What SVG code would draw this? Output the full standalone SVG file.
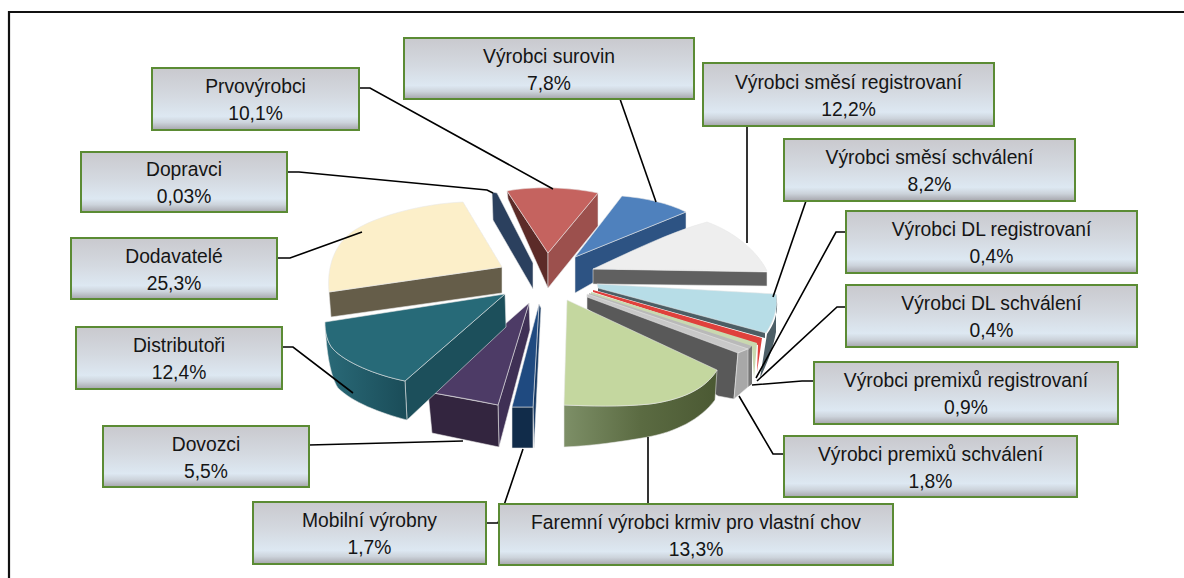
<svg xmlns="http://www.w3.org/2000/svg" width="1184" height="578" viewBox="0 0 1184 578">
<defs>
<linearGradient id="boxg" x1="0" y1="0" x2="0" y2="1">
<stop offset="0" stop-color="#c9c9ce"/>
<stop offset="0.45" stop-color="#d4d9e0"/>
<stop offset="0.78" stop-color="#dde8f2"/>
<stop offset="0.88" stop-color="#ccd3db"/>
<stop offset="1" stop-color="#a5a5ab"/>
</linearGradient>
<linearGradient id="greenSide" x1="0" y1="0" x2="1" y2="0">
<stop offset="0" stop-color="#7d8f67"/>
<stop offset="0.5" stop-color="#5b6b42"/>
<stop offset="1" stop-color="#4b5933"/>
</linearGradient>
<linearGradient id="tealSide" x1="0" y1="0" x2="1" y2="0">
<stop offset="0" stop-color="#2a6a78"/>
<stop offset="1" stop-color="#1a4c58"/>
</linearGradient>
<style>
.box{fill:url(#boxg);stroke:#5b8b34;stroke-width:2}
.t{font-family:"Liberation Sans",Arial,sans-serif;font-size:19.3px;fill:#151515;text-anchor:middle}
.c{fill:none;stroke:#000;stroke-width:1.6}
.e{stroke:#e8e8e8;stroke-width:0.8;stroke-opacity:0.7}
</style>
</defs>
<rect width="1184" height="578" fill="#fff"/>
<path d="M9,578 V12 H1184" fill="none" stroke="#111" stroke-width="2.2"/>

<g id="pie">
<g id="slice-dopravci">
<path class="e" d="M492,192 L497,193 L533,263 L533,289 L493,220 Z" fill="#2b405e"/>
</g>
<g id="slice-dodavatele">
<path class="e" d="M329,292 L502,267 L502,293 L331,317 Z" fill="#655d49"/>
<path class="e" d="M329,292 C326,262 338,238 360,227 C380,216 420,204 463,202 L502,267 Z" fill="#fcefc9"/>
</g>
<g id="slice-prvovyrobci">
<path class="e" d="M507,191 L548,253 L548,288 L508,199 Z" fill="#5c2b28"/>
<path class="e" d="M598,193 L548,253 L548,288 L598,226 Z" fill="#9c504d"/>
<path class="e" d="M507,191 C530,186 570,187 598,193 L548,253 Z" fill="#c5635f"/>
</g>
<g id="slice-surovin">
<path class="e" d="M575,257 L686,212 L686,230 L575,293 Z" fill="#2d5383"/>
<path class="e" d="M575,257 L622,196 C645,198 668,203 686,212 Z" fill="#4f81bd"/>
</g>
<g id="slice-smesi-reg">
<path class="e" d="M593,269 L767,272 L767,286 L593,284 Z" fill="#606060"/>
<path class="e" d="M593,269 C630,252 670,232 707,222 C735,232 758,252 767,271 Z" fill="#eeeeee"/>
</g>
<g id="slice-smesi-schv">
<path d="M598,287 L765,331 L765,338 L598,291 Z" fill="#4c5d64"/>
<path d="M776,294 C779,308 776,322 767,334 L760,378 C768,362 773,348 776,332 Z" fill="#4d5f67"/>
<path class="e" d="M597,284 L776,294 C778,304 776,318 766,333 L598,288 Z" fill="#b7dde7"/>
</g>
<g id="slice-dl-reg">
<path d="M593,290 L762,338 L757,372 L758,345 L593,292 Z" fill="#e0403c"/>
</g>
<g id="slice-dl-schv">
<path d="M591,292 L757,343 L754,378 L752,348 L591,294 Z" fill="#c9d8b0"/>
</g>
<g id="slice-premix-reg">
<path d="M589,293 L752,346 L750,382 L748,350 L589,296 Z" fill="#b9b9b9"/>
<path d="M748,350 L752,346 L752,384 L748,387 Z" fill="#777"/>
</g>
<g id="slice-premix-schv">
<path class="e" d="M587,295 L738,352 L734,399 L718,396 L587,309 Z" fill="#595959"/>
<path class="e" d="M587,294 L748,349 L738,353 L587,297 Z" fill="#c8c8c8"/>
<path class="e" d="M738,353 L748,349 L748,387 L734,399 Z" fill="#a8a8a8"/>
</g>
<g id="slice-faremni">
<path class="e" d="M564,405 C590,406 620,407 650,404 C680,400 705,390 717,370 L715,400 C700,420 675,432 648,437 C620,442 590,446 564,447 Z" fill="url(#greenSide)"/>
<path class="e" d="M567,300 L717,370 C705,390 680,400 650,404 C620,407 590,406 564,405 Z" fill="#c4d79f"/>
</g>
<g id="slice-mobilni">
<path class="e" d="M533,407 L539,304 L541,308 L534,448 Z" fill="#173a64"/>
<path class="e" d="M512,407 L533,407 L533,448 L512,448 Z" fill="#112c4a"/>
<path class="e" d="M512,407 L539,304 L533,407 Z" fill="#1f4a80"/>
</g>
<g id="slice-dovozci">
<path class="e" d="M498,405 L529,303 L530,330 L499,447 Z" fill="#3f3055"/>
<path class="e" d="M428,392 L498,405 L499,447 L432,433 Z" fill="#33253f"/>
<path class="e" d="M428,392 L529,303 L498,405 C475,400 450,396 428,392 Z" fill="#4d3b66"/>
</g>
<g id="slice-distributori">
<path class="e" d="M405,381 L505,294 L506,327 L407,420 Z" fill="#1c4f5b"/>
<path class="e" d="M325,322 C325,332 327,342 333,349 C345,362 375,375 405,381 L407,420 C380,413 352,402 338,388 C329,374 326,345 325,322 Z" fill="url(#tealSide)"/>
<path class="e" d="M325,322 L505,294 L405,381 C375,375 345,362 333,349 C327,342 325,332 325,322 Z" fill="#276a78"/>
</g>
</g>

<g id="connectors">
<path class="c" d="M359,88 H370 L553,189"/>
<path class="c" d="M287,172 H299 L487,190 L493,193"/>
<path class="c" d="M277,258 H290 L362,232"/>
<path class="c" d="M282,347 H293 L353,393"/>
<path class="c" d="M309,445 L463,441"/>
<path class="c" d="M486,523 H498 L523,449"/>
<path class="c" d="M648,504 V437"/>
<path class="c" d="M620,99 L656,202"/>
<path class="c" d="M747,126 V243"/>
<path class="c" d="M806,201 L773,297"/>
<path class="c" d="M846,232 H836 L756,378"/>
<path class="c" d="M846,307 H837 L757,381"/>
<path class="c" d="M814,381 H802 L752,385"/>
<path class="c" d="M784,454 H773 L739,396"/>
</g>

<g id="box-prvovyrobci">
<rect class="box" x="152" y="68" width="207" height="62"/>
<text class="t" x="255.5" y="93">Prvovýrobci</text>
<text class="t" x="255.5" y="120">10,1%</text>
</g>
<g id="box-dopravci">
<rect class="box" x="81" y="152" width="206" height="60"/>
<text class="t" x="184" y="176">Dopravci</text>
<text class="t" x="184" y="203">0,03%</text>
</g>
<g id="box-dodavatele">
<rect class="box" x="71" y="238" width="206" height="61"/>
<text class="t" x="174" y="263">Dodavatelé</text>
<text class="t" x="174" y="290">25,3%</text>
</g>
<g id="box-distributori">
<rect class="box" x="76" y="327" width="206" height="62"/>
<text class="t" x="179" y="352">Distributoři</text>
<text class="t" x="179" y="379">12,4%</text>
</g>
<g id="box-dovozci">
<rect class="box" x="103" y="426" width="206" height="61"/>
<text class="t" x="206" y="451">Dovozci</text>
<text class="t" x="206" y="478">5,5%</text>
</g>
<g id="box-mobilni">
<rect class="box" x="253" y="502" width="233" height="62"/>
<text class="t" x="369.5" y="527">Mobilní výrobny</text>
<text class="t" x="369.5" y="554">1,7%</text>
</g>
<g id="box-faremni">
<rect class="box" x="499" y="504" width="394" height="61"/>
<text class="t" x="696" y="529">Faremní výrobci krmiv pro vlastní chov</text>
<text class="t" x="696" y="556">13,3%</text>
</g>
<g id="box-surovin">
<rect class="box" x="404" y="38" width="290" height="61"/>
<text class="t" x="549" y="63">Výrobci surovin</text>
<text class="t" x="549" y="90">7,8%</text>
</g>
<g id="box-smesi-reg">
<rect class="box" x="703" y="63" width="291" height="63"/>
<text class="t" x="848.5" y="89">Výrobci směsí registrovaní</text>
<text class="t" x="848.5" y="116">12,2%</text>
</g>
<g id="box-smesi-schv">
<rect class="box" x="784" y="139" width="291" height="62"/>
<text class="t" x="929.5" y="164">Výrobci směsí schválení</text>
<text class="t" x="929.5" y="191">8,2%</text>
</g>
<g id="box-dl-reg">
<rect class="box" x="846" y="211" width="291" height="62"/>
<text class="t" x="991.5" y="236">Výrobci DL registrovaní</text>
<text class="t" x="991.5" y="263">0,4%</text>
</g>
<g id="box-dl-schv">
<rect class="box" x="846" y="285" width="291" height="62"/>
<text class="t" x="991.5" y="310">Výrobci DL schválení</text>
<text class="t" x="991.5" y="337">0,4%</text>
</g>
<g id="box-premix-reg">
<rect class="box" x="814" y="362" width="304" height="62"/>
<text class="t" x="966" y="387">Výrobci premixů registrovaní</text>
<text class="t" x="966" y="414">0,9%</text>
</g>
<g id="box-premix-schv">
<rect class="box" x="784" y="436" width="293" height="61"/>
<text class="t" x="930.5" y="461">Výrobci premixů schválení</text>
<text class="t" x="930.5" y="488">1,8%</text>
</g>
</svg>
